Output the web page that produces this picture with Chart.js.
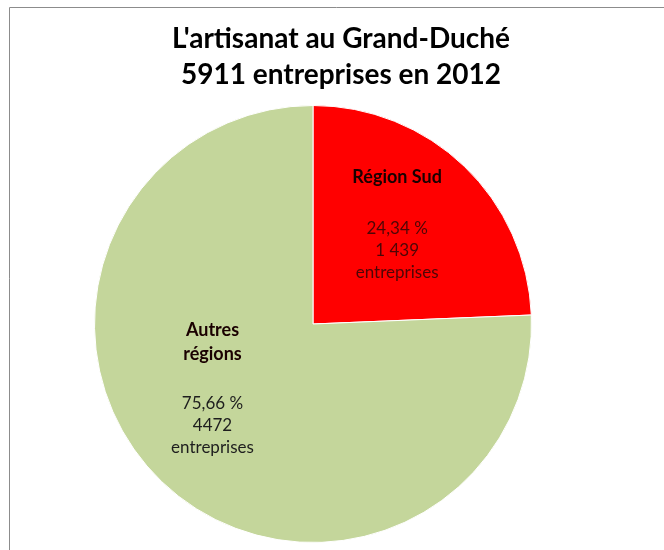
<!DOCTYPE html>
<html>
<head>
<meta charset="utf-8">
<script src="https://cdn.jsdelivr.net/npm/chart.js@4"></script>
<style>
  html, body { margin: 0; padding: 0; background: #fff; }
  #wrap { width: 664px; height: 550px; position: relative; }
</style>
</head>
<body>
<div id="wrap"><canvas id="chart" width="664" height="550"></canvas></div>
<script>
const TITLE_LINES = ["L'artisanat au Grand-Duché", '5911 entreprises en 2012'];
const REGIONS = ['Région Sud', 'Autres régions'];
const REGION_LINES = [['Région Sud'], ['Autres', 'régions']];
const ENTREPRISES = [1439, 4472];
const ENTREPRISES_TEXT = ['1 439', '4472'];
const PERCENT_TEXT = ['24,34 %', '75,66 %'];
const COLORS = ['#ff0000', '#c4d69b'];

const FONT = "Lato, 'Open Sans', sans-serif";

// label anchors, as fractions of the pie radius from its centre
const LABEL_ANCHOR = [
  { dx: 0.385, nameY: -0.67, valY: -0.435 },
  { dx: -0.46, nameY: 0.03, valY: 0.365 }
];

// frame + title, drawn behind the pie
const frameTitle = {
  id: 'frameTitle',
  beforeDraw(chart) {
    const ctx = chart.ctx;
    ctx.save();
    ctx.strokeStyle = '#8c8c8c';
    ctx.lineWidth = 1;
    ctx.beginPath();
    ctx.moveTo(9.5, chart.height);
    ctx.lineTo(9.5, 7.5);
    ctx.lineTo(chart.width, 7.5);
    ctx.stroke();
    ctx.fillStyle = '#000';
    ctx.font = 'bold 28px ' + FONT;
    ctx.textAlign = 'center';
    ctx.textBaseline = 'alphabetic';
    TITLE_LINES.forEach((t, i) => ctx.fillText(t, 341, 48 + i * 36));
    ctx.restore();
  }
};

const sliceLabels = {
  id: 'sliceLabels',
  afterDatasetsDraw(chart) {
    const ctx = chart.ctx;
    const arcs = chart.getDatasetMeta(0).data;
    ctx.save();
    ctx.textAlign = 'center';
    ctx.textBaseline = 'middle';
    arcs.forEach((arc, i) => {
      const r = arc.outerRadius, a = LABEL_ANCHOR[i];
      const x = arc.x + a.dx * r;
      ctx.font = 'bold 18px ' + FONT;
      ctx.fillStyle = '#1a0000';
      REGION_LINES[i].forEach((t, k) => ctx.fillText(t, x, arc.y + a.nameY * r + k * 24));
      ctx.font = '17px ' + FONT;
      ctx.fillStyle = i === 0 ? '#4d0606' : '#1e1e1e';
      const vals = [PERCENT_TEXT[i], ENTREPRISES_TEXT[i], 'entreprises'];
      vals.forEach((t, k) => ctx.fillText(t, x, arc.y + a.valY * r + k * 22));
    });
    ctx.restore();
  }
};

new Chart(document.getElementById('chart'), {
  type: 'pie',
  data: {
    labels: REGIONS,
    datasets: [{
      data: ENTREPRISES,
      backgroundColor: COLORS,
      borderColor: '#ffffff',
      borderWidth: 1
    }]
  },
  options: {
    responsive: false,
    animation: false,
    layout: { padding: { top: 105, bottom: 7, left: 94, right: 132 } },
    plugins: {
      legend: { display: false },
      tooltip: { enabled: false },
      title: { display: false }
    }
  },
  plugins: [frameTitle, sliceLabels]
});
</script>
</body>
</html>
